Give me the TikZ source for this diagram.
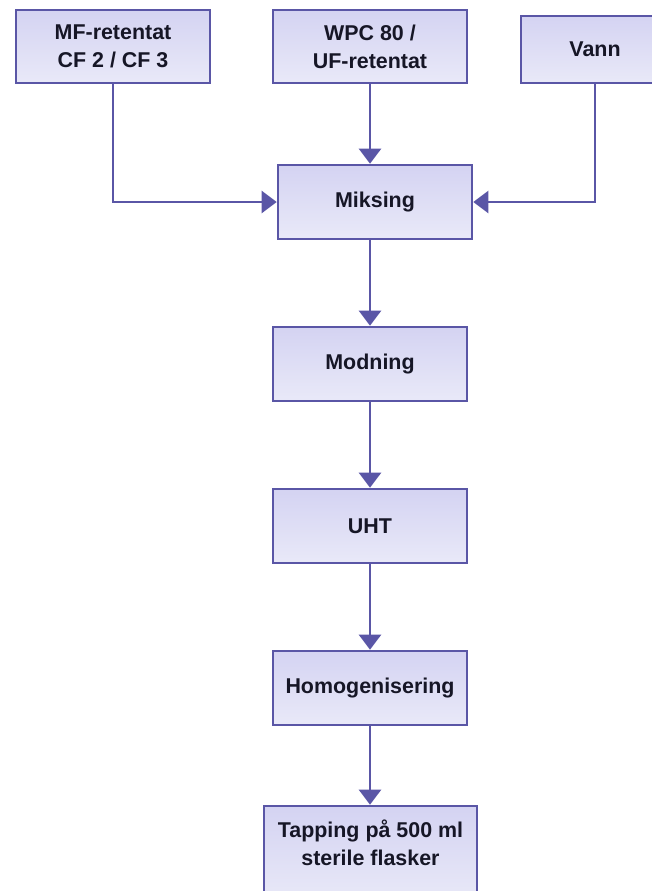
\documentclass[tikz,border=0pt]{standalone}
\usepackage{fontspec}
\setmainfont{Liberation Sans}
\usetikzlibrary{arrows.meta}

\definecolor{boxline}{RGB}{90,86,166}
\definecolor{boxtop}{RGB}{212,211,242}
\definecolor{boxbot}{RGB}{233,233,248}
\definecolor{boxtext}{RGB}{22,22,38}

\tikzset{
  stepbox/.style={draw=boxline,line width=2.6bp,top color=boxtop,bottom color=boxbot,
    minimum width=194bp,minimum height=74bp,inner sep=0pt,align=center,
    text=boxtext,font=\fontsize{21.5}{28}\selectfont\bfseries},
  flow/.style={draw=boxline,line width=2.4bp,-{Triangle[width=22bp,length=15bp]}}
}

\begin{document}
\begin{tikzpicture}[x=1bp,y=-1bp]
\useasboundingbox (0,0) rectangle (652,891);

% top row
\node [stepbox,minimum height=73bp] (mf) at (113, 46.5) {MF-retentat\\CF 2 / CF 3};
\node [stepbox,minimum height=73bp] (wpc) at (370, 46.5) {WPC 80 /\\UF-retentat};
\node [stepbox,minimum width=148bp,minimum height=67bp] (vann) at (595, 49.5) {Vann};

% main column
\node [stepbox] (miks) at (375, 202) {Miksing};
\node [stepbox] (modn) at (370, 364) {Modning};
\node [stepbox] (uht) at (370, 526) {UHT};
\node [stepbox] (homog) at (370, 688) {Homogenisering};
\node [stepbox,minimum width=213bp,minimum height=96bp,text depth=23bp] (tapp) at (370.5, 854) {Tapping på 500 ml\\sterile flasker};

\draw [flow] (mf.south) |- (miks.west);
\draw [flow] (vann.south) |- (miks.east);
\draw [flow] (wpc.south) -- (wpc.south |- miks.north);
\draw [flow] (modn.north |- miks.south) -- (modn.north);
\draw [flow] (modn.south) -- (uht.north);
\draw [flow] (uht.south) -- (homog.north);
\draw [flow] (homog.south) -- (homog.south |- tapp.north);
\end{tikzpicture}
\end{document}
